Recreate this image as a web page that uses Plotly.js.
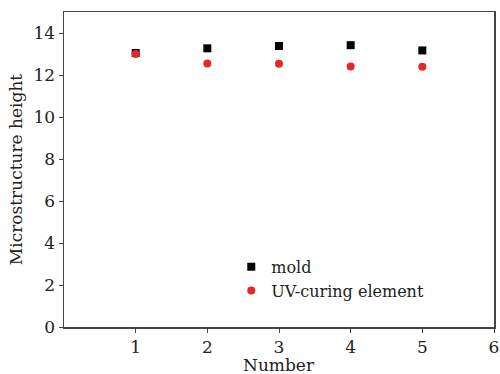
<!DOCTYPE html>
<html>
<head>
<meta charset="utf-8">
<script src="https://cdn.plot.ly/plotly-3.0.1.min.js"></script>
<style>html,body{margin:0;padding:0;background:#fff;}#chart{width:500px;height:374px;}</style>
</head>
<body>
<div id="chart"></div>
<script>
const numbers = [1, 2, 3, 4, 5];
const moldHeight = [13.05, 13.27, 13.38, 13.42, 13.17];
const uvHeight = [13.0, 12.55, 12.53, 12.4, 12.39];
const xTicks = [1, 2, 3, 4, 5, 6];
const yTicks = [0, 2, 4, 6, 8, 10, 12, 14];
const xTitle = 'Number';
const yTitle = 'Microstructure height';

const family = 'DejaVu Serif, Liberation Serif, serif';
const tickFont = {family: family, size: 17, color: '#222'};
const titleFont = {family: family, size: 17, color: '#222'};
const legendFont = {family: family, size: 16, color: '#222'};

const traces = [
  {x: numbers, y: moldHeight, name: 'mold', mode: 'markers', type: 'scatter',
   marker: {symbol: 'square', size: 8, color: '#000'}},
  {x: numbers, y: uvHeight, name: 'UV-curing element', mode: 'markers', type: 'scatter',
   marker: {symbol: 'circle', size: 8, color: '#e8262a'}}
];

const axisCommon = {
  showline: true, linecolor: '#444', linewidth: 1.5, mirror: true,
  ticks: 'outside', ticklen: 4, tickcolor: '#444', tickwidth: 1,
  showgrid: false, zeroline: false, tickfont: tickFont
};

const layout = {
  width: 500, height: 374,
  margin: {l: 64, r: 6, t: 12, b: 47},
  paper_bgcolor: '#fff', plot_bgcolor: '#fff',
  font: tickFont,
  showlegend: true,
  legend: {x: 0.389, y: 0.245, xanchor: 'left', yanchor: 'top', bgcolor: 'rgba(0,0,0,0)',
           font: legendFont, itemwidth: 30, tracegroupgap: 0},
  xaxis: Object.assign({}, axisCommon, {range: [0, 6], tickvals: xTicks, automargin: false}),
  yaxis: Object.assign({}, axisCommon, {range: [0, 15], tickvals: yTicks,
    title: {text: yTitle, font: titleFont, standoff: 6}}),
  annotations: [{text: xTitle, xref: 'paper', yref: 'paper', x: 0.5, y: -0.159,
    xanchor: 'center', yanchor: 'bottom', showarrow: false, font: titleFont}]
};

Plotly.newPlot('chart', traces, layout, {displayModeBar: false, staticPlot: true});
</script>
</body>
</html>
